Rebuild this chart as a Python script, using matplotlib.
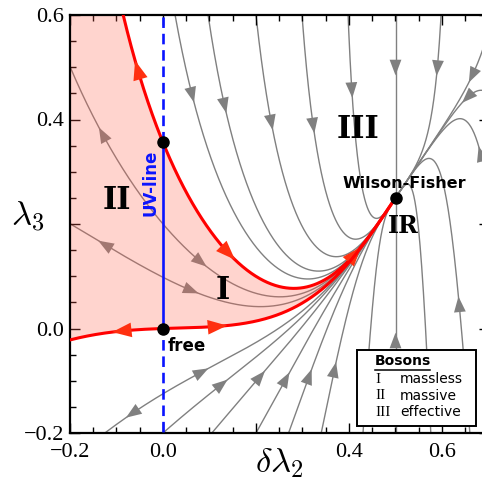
import numpy as np
import matplotlib
matplotlib.use("Agg")
import matplotlib.pyplot as plt

plt.rcParams["mathtext.fontset"] = "cm"

# fixed points: free, end of UV-line, Wilson-Fisher (IR)
fp_x = [0.0, 0.0, 0.5]
fp_y = [0.0, 0.356, 0.25]

# shape of the flow (toward the IR) around the Wilson-Fisher point
wf = (0.5, 0.25)
slope = 1.33          # slow direction at WF
n0, kx, ky = 3.98, 1.34, 1.05   # ratio fast/slow, and how it changes over the plane

# separatrices (red), seeded on the UV-line end points
red_x = [0.0, 0.0]
red_y = [0.356, 0.0]

# grey stream lines, seeded where they cross x=0 or the frame
grey_x = [0.0, 0.0,
          0.026, 0.097, 0.2, 0.299, 0.398, 0.5, 0.598,
          0.7, 0.7, 0.7,
          -0.125, 0.0, 0.105, 0.2, 0.27, 0.34, 0.43, 0.5, 0.576, 0.66]
grey_y = [0.2, 0.098,
          0.6, 0.6, 0.6, 0.6, 0.6, 0.6, 0.6,
          0.57, 0.45, 0.26,
          -0.2, -0.2, -0.2, -0.2, -0.2, -0.2, -0.2, -0.2, -0.2, -0.2]

# where the arrow heads sit (approx.)
grey_arrows = [[(-0.12, 0.385), (0.08, 0.115)], [(-0.12, 0.184), (0.065, 0.063)],
               [(0.069, 0.443)], [(0.14, 0.423)], [(0.239, 0.389)], [(0.329, 0.383)],
               [(0.411, 0.45)], [(0.499, 0.494)], [(0.58, 0.494)],
               [(0.641, 0.49)], [(0.645, 0.443)], [(0.665, 0.335)],
               [(-0.082, -0.151), (0.08, -0.061)], [(0.123, -0.09)], [(0.2, -0.075)],
               [(0.254, -0.084)], [(0.303, -0.08)], [(0.361, -0.071)], [],
               [(0.499, -0.017)], [], [(0.65, 0.054)]]
red_arrows = [[(-0.06, 0.504), (0.144, 0.134), (0.419, 0.149)],
              [(-0.1, -0.006), (0.129, 0.002)]]


def beta(x, y):
    u = x - wf[0]
    v = y - wf[1]
    w = v - slope * u
    n = n0 * np.exp(kx * u + ky * v)
    return -u, -n * w - slope * u


def step_dir(x, y, sgn):
    a, b = beta(x, y)
    m = np.hypot(a, b) + 1e-12
    return sgn * a / m, sgn * b / m


def trace(x0, y0, sgn, ds=0.0015, nmax=4000):
    pts = [(x0, y0)]
    x, y = x0, y0
    for _ in range(nmax):
        k1 = step_dir(x, y, sgn)
        k2 = step_dir(x + ds / 2 * k1[0], y + ds / 2 * k1[1], sgn)
        k3 = step_dir(x + ds / 2 * k2[0], y + ds / 2 * k2[1], sgn)
        k4 = step_dir(x + ds * k3[0], y + ds * k3[1], sgn)
        x += ds / 6 * (k1[0] + 2 * k2[0] + 2 * k3[0] + k4[0])
        y += ds / 6 * (k1[1] + 2 * k2[1] + 2 * k3[1] + k4[1])
        pts.append((x, y))
        if not (-0.35 < x < 0.8 and -0.3 < y < 0.72):
            break
        if np.hypot(x - wf[0], y - wf[1]) < 0.003:
            pts.append(wf)
            break
    return np.array(pts)


def stream(x0, y0):
    back = trace(x0, y0, -1)[::-1]
    fwd = trace(x0, y0, 1)
    return np.vstack([back, fwd[1:]])


def add_arrow(ax, pts, hint, color, ms, z):
    d = np.hypot(pts[:, 0] - hint[0], pts[:, 1] - hint[1])
    i = int(np.argmin(d))
    k = 6
    i = min(max(i, k), len(pts) - k - 1)
    a, b = pts[i - k], pts[i + k]
    if pts[i, 0] < 0:   # flow is x*beta: reversed left of the UV-line
        a, b = b, a
    ax.annotate("", xy=b, xytext=a, zorder=z,
                arrowprops=dict(arrowstyle="-|>,head_length=0.45,head_width=0.17",
                                color=color, lw=0, shrinkA=0, shrinkB=0,
                                mutation_scale=ms))


fig = plt.figure(figsize=(4.82, 4.80), dpi=100)
ax = fig.add_axes([70 / 482, 47 / 480, 418.5 / 482, 418 / 480])

grey = "#808080"
for sx, sy, arr in zip(grey_x, grey_y, grey_arrows):
    pts = stream(sx, sy)
    ax.plot(pts[:, 0], pts[:, 1], color=grey, lw=1.0, zorder=1)
    for h in arr:
        add_arrow(ax, pts, h, grey, 25, 1)

red_curves = []
for sx, sy, arr in zip(red_x, red_y, red_arrows):
    pts = stream(sx, sy)
    red_curves.append(pts)
    ax.plot(pts[:, 0], pts[:, 1], color="#ff0000", lw=2.2, zorder=3)
    for h in arr:
        add_arrow(ax, pts, h, "#ff3010", 31, 3)

# shaded region between the two separatrices
up, lo = red_curves
poly = np.vstack([up, lo[::-1], [[-0.5, lo[0, 1]], [-0.5, 0.9], [up[0, 0], 0.9]]])
ax.fill(poly[:, 0], poly[:, 1], color="#ff604c", alpha=0.27, lw=0, zorder=2)

# UV-line
blue = "#0a14ff"
ax.plot([0, 0], [fp_y[0], fp_y[1]], color=blue, lw=1.9, zorder=4)
ax.plot([0, 0], [fp_y[1], 0.7], color=blue, lw=1.9, dashes=(4, 2.2), zorder=4)
ax.plot([0, 0], [-0.3, fp_y[0]], color=blue, lw=1.9, dashes=(4, 2.2), zorder=4)

ax.plot(fp_x, fp_y, "o", color="black", ms=8, zorder=6)

roman = dict(family="DejaVu Serif", weight="bold", ha="center", va="center", zorder=7)
ax.text(0.42, 0.38, "III", fontsize=22, **roman)
ax.text(-0.10, 0.245, "II", fontsize=22, **roman)
ax.text(0.128, 0.073, "I", fontsize=22, **roman)
ax.text(0.516, 0.197, "IR", fontsize=17, **roman)

sans = dict(family="DejaVu Sans", weight="bold", va="center", zorder=7)
ax.text(0.518, 0.278, "Wilson-Fisher", fontsize=11.5, ha="center", **sans)
ax.text(0.009, -0.033, "free", fontsize=12, ha="left", **sans)
ax.text(-0.026, 0.278, "UV-line", fontsize=12, ha="center", rotation=90,
        color=blue, **sans)

# legend box
ax.add_patch(plt.Rectangle((0.418, -0.2 + 0.0134), 0.256, 0.1455, transform=ax.transData,
                           facecolor="white", edgecolor="black", lw=1.4, zorder=8))
ax.text(0.456, -0.063, "Bosons", fontsize=10, ha="left", **{**sans, "zorder": 9})
ax.plot([0.456, 0.574], [-0.079, -0.079], color="black", lw=1.1, zorder=9)
leg_num = ["I", "II", "III"]
leg_txt = ["massless", "massive", "effective"]
for i, (a, b) in enumerate(zip(leg_num, leg_txt)):
    yy = -0.097 - 0.0315 * i
    ax.text(0.456, yy, a, fontsize=11, family="Liberation Serif", va="center", zorder=9)
    ax.text(0.51, yy, b, fontsize=10, family="DejaVu Sans", va="center", zorder=9)

ax.set_xlim(-0.2, 0.7)
ax.set_ylim(-0.2, 0.6)
ax.set_xticks([-0.2, 0.0, 0.2, 0.4, 0.6])
ax.set_xticklabels(["\u22120.2", "0.0", "", "0.4", "0.6"])
ax.set_yticks([-0.2, 0.0, 0.2, 0.4, 0.6])
ax.set_yticklabels(["\u22120.2", "0.0", "", "0.4", "0.6"])
ax.set_xticks(np.arange(-0.2, 0.71, 0.05), minor=True)
ax.set_yticks(np.arange(-0.2, 0.61, 0.05), minor=True)
ax.tick_params(which="both", direction="in", top=True, right=True, width=1.0)
ax.tick_params(which="major", length=7, labelsize=16)
ax.tick_params(axis="x", which="major", pad=7)
ax.tick_params(axis="y", which="major", pad=4)
ax.tick_params(which="minor", length=4)
for lab in ax.get_xticklabels() + ax.get_yticklabels():
    lab.set_family("Liberation Serif")
for s in ax.spines.values():
    s.set_linewidth(1.6)

ax.text(0.25, -0.258, r"$\delta\lambda_2$", fontsize=25, ha="center", va="center")
ax.text(-0.29, 0.215, r"$\lambda_3$", fontsize=25, ha="center", va="center")

fig.savefig("out.png", dpi=100)
